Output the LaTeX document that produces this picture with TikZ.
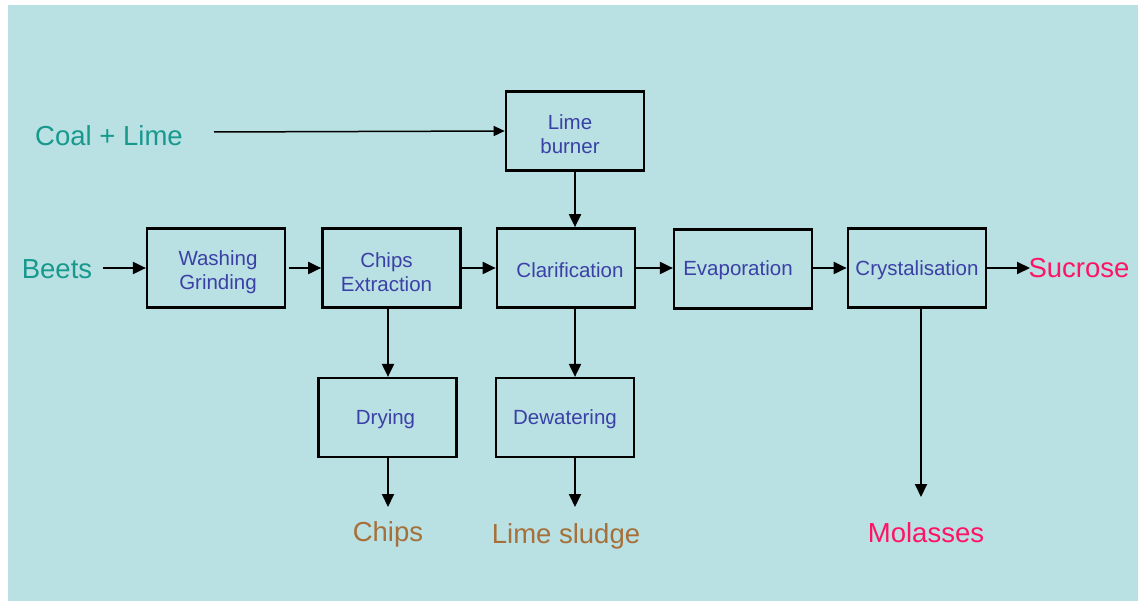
\documentclass[tikz,border=0pt]{standalone}
\usepackage{fontspec}
\setmainfont{Liberation Sans}
\usetikzlibrary{arrows.meta}
\definecolor{bgblue}{HTML}{B9E0E3}
\definecolor{boxtext}{HTML}{3B40A6}
\definecolor{feedteal}{HTML}{17998E}
\definecolor{wastebrown}{HTML}{A57039}
\definecolor{productpink}{HTML}{FF1464}
\tikzset{
  x=1pt, y=-1pt,
  unit/.style={draw=black, line width=2.2pt, minimum width=138pt, minimum height=79pt,
    inner sep=0pt},
  heavy/.style={line width=2.7pt},
  unitname/.style={inner sep=0pt, align=center, text=boxtext,
    font=\fontsize{20.5}{24}\selectfont},
  flow/.style={line width=2pt, -{Triangle[length=13pt,width=12pt]}},
  thinflow/.style={line width=1.5pt, -{Triangle[length=11pt,width=10pt]}},
  stream/.style={inner sep=0pt, anchor=base, font=\fontsize{27.5}{33}\selectfont},
}
\begin{document}
\begin{tikzpicture}
\useasboundingbox (0,0) rectangle (1138,601);
\fill[white] (0,0) rectangle (1138,601);
\fill[bgblue] (8,5) rectangle (1138,601);

% process units
\node[unit, heavy] (lime)  at (575,131) {};
\node[unit] (wash)  at (216,268) {};
\node[unit, heavy] (chips) at (391.5,268) {};
\node[unit, heavy] (clar)  at (566,268) {};
\node[unit] (evap)  at (743,269) {};
\node[unit, heavy] (cryst) at (917,268) {};
\node[unit] (dry)   at (387.5,417.5) {};
\node[unit] (dew)   at (565,417.5) {};

% unit names
\node[unitname] (limet)  at ([shift={(-5,3)}]lime.center) {Lime\\burner};
\node[unitname] (washt)  at ([shift={(2,4)}]wash.center) {Washing\\Grinding};
\node[unitname] (chipst) at ([shift={(-5,4)}]chips.center) {Chips\\Extraction};
\node[unitname] (clart)  at ([shift={(4,2)}]clar.center) {Clarification};
\node[unitname] (evapt)  at ([shift={(-5,1)}]evap.center) {Evaporation};
\node[unitname] (crystt) at ([shift={(0,2)}]cryst.center) {Crystalisation};
\node[unitname] (dryt)   at ([shift={(-2,2)}]dry.center) {Drying};
\node[unitname] (dewt)   at ([shift={(0,2)}]dew.center) {Dewatering};

% feeds and products
\node[stream, text=feedteal] (coal) at (109,146) {Coal + Lime};
\node[stream, text=feedteal] (beets) at (57,279) {Beets};
\node[stream, text=productpink] (sucrose) at (1079,278) {Sucrose};
\node[stream, text=wastebrown] (chipsout) at (388,541) {Chips};
\node[stream, text=wastebrown] (sludge) at (566,543) {Lime sludge};
\node[stream, text=productpink] (molasses) at (926,542) {Molasses};

% free ends of the streams
\coordinate (coalstart) at (214,132);
\coordinate (beetsstart) at (103,268);
\coordinate (chipsend) at (388,507);
\coordinate (sludgeend) at (575,507);
\coordinate (molassesend) at (921,497);
\coordinate (sucroseend) at (1030,268);

% connectors
\draw[thinflow] (coalstart) -- (lime.west);
\draw[flow] (beetsstart) -- (wash.west);
\draw[flow] ([xshift=3pt]wash.east) -- (chips.west);
\draw[flow] (chips.east) -- (clar.west);
\draw[flow] (clar.east) -- (evap.west |- clar.east);
\draw[flow] (evap.east |- cryst.west) -- (cryst.west);
\draw[flow] (cryst.east) -- (sucroseend);
\draw[flow] (lime.south) -- (lime.south |- clar.north);
\draw[flow] (chipsend |- chips.south) -- (chipsend |- dry.north);
\draw[flow] (sludgeend |- clar.south) -- (sludgeend |- dew.north);
\draw[flow] (chipsend |- dry.south) -- (chipsend);
\draw[flow] (sludgeend |- dew.south) -- (sludgeend);
\draw[flow] (molassesend |- cryst.south) -- (molassesend);
\end{tikzpicture}
\end{document}
